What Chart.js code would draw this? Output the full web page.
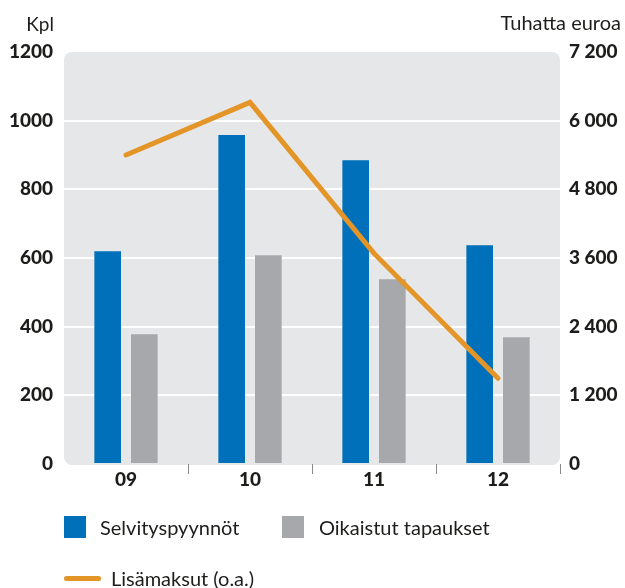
<html>
	<head>
		<script src="https://cdn.jsdelivr.net/npm/chart.js@4"></script>
		<style>
			body {
				margin: 0;
				background: #fff;
				font-family: Lato, sans-serif;
				color: #1d1d1b;
			}
			.wrap {
				position: relative;
				width: 625px;
				height: 588px;
			}
			.legend-item {
				position: absolute;
				font-size: 20px;
				line-height: 22px;
				white-space: nowrap;
			}
			.swatch {
				position: absolute;
			}
		</style>
	</head>
	<body>
		<div class="wrap">
			<canvas id="chart" width="625" height="588"></canvas>

			<div class="swatch" style="left:64px;top:516px;width:22px;height:22px;background:#0070ba"></div>
			<div class="legend-item" style="left:100px;top:516px">Selvityspyynnöt</div>
			<div class="swatch" style="left:282px;top:516px;width:22px;height:22px;background:#a7a8ab"></div>
			<div class="legend-item" style="left:319px;top:516px">Oikaistut tapaukset</div>
			<div class="swatch" style="left:64px;top:576px;width:37px;height:5px;border-radius:3px;background:#e39527"></div>
			<div class="legend-item" style="left:111px;top:567px">Lisämaksut (o.a.)</div>
		</div>

		<script>
			const years = ['09', '10', '11', '12'];
			const selvityspyynnot = [620, 958, 885, 637];
			const oikaistut = [378, 608, 538, 369];
			const lisamaksut = [5400, 6320, 3680, 1500]; // tuhatta euroa, oikea akseli

			const leftTicks = [0, 1200, 200];   // min, max, step
			const rightTicks = [0, 7200, 1200];

			const tickFont = { family: 'Lato', size: 19, weight: 900, lineHeight: 1 };

			function spaced(v) {
				return String(v).replace(/\B(?=(\d{3})+(?!\d))/g, ' ');
			}

			// grey rounded plot background + axis titles
			const decor = {
				id: 'decor',
				beforeDraw(chart) {
					const { ctx, chartArea: a } = chart;
					ctx.save();
					ctx.fillStyle = '#e6e7e9';
					ctx.beginPath();
					ctx.roundRect(a.left, a.top, a.right - a.left, a.bottom - a.top + 1, 8);
					ctx.fill();
					ctx.restore();
				},
				afterDraw(chart) {
					const ctx = chart.ctx;
					ctx.save();
					ctx.fillStyle = '#1d1d1b';
					ctx.textBaseline = 'middle';
					ctx.textAlign = 'right';
					ctx.font = '19px Lato';
					ctx.fillText('Kpl', 54, 25);
					ctx.font = '20px Lato';
					ctx.fillText('Tuhatta euroa', 621, 24);
					ctx.restore();
				}
			};

			new Chart(document.getElementById('chart'), {
				data: {
					labels: years,
					datasets: [
						{
							type: 'line',
							label: 'Lisämaksut (o.a.)',
							data: lisamaksut,
							yAxisID: 'y1',
							borderColor: '#e39527',
							borderWidth: 5,
							borderCapStyle: 'round',
							tension: 0,
							pointRadius: 0,
							order: 0
						},
						{
							type: 'bar',
							label: 'Selvityspyynnöt',
							data: selvityspyynnot,
							yAxisID: 'y',
							backgroundColor: '#0070ba',
							categoryPercentage: 0.591,
							barPercentage: 0.727,
							order: 1
						},
						{
							type: 'bar',
							label: 'Oikaistut tapaukset',
							data: oikaistut,
							yAxisID: 'y',
							backgroundColor: '#a7a8ab',
							categoryPercentage: 0.591,
							barPercentage: 0.727,
							order: 1
						}
					]
				},
				options: {
					responsive: false,
					animation: false,
					devicePixelRatio: 1,
					layout: { padding: { top: 52, bottom: 94, left: 0, right: 0 } },
					plugins: {
						legend: { display: false },
						tooltip: { enabled: false }
					},
					scales: {
						x: {
							offset: true,
							border: { display: false },
							grid: {
								offset: true,
								drawOnChartArea: false,
								tickLength: 10,
								lineWidth: 1,
								color: ctx => (ctx.index === 0 || ctx.index === years.length) ? 'rgba(0,0,0,0)' : '#8a8a8a'
							},
							ticks: { font: tickFont, color: '#1d1d1b', padding: -4 },
							afterFit: s => { s.height = 30; }
						},
						y: {
							position: 'left',
							min: leftTicks[0],
							max: leftTicks[1],
							border: { display: false },
							grid: {
								drawTicks: false,
								lineWidth: 2,
								color: ctx => (ctx.tick && (ctx.tick.value === leftTicks[0] || ctx.tick.value === leftTicks[1])) ? 'rgba(0,0,0,0)' : '#ffffff'
							},
							ticks: { stepSize: leftTicks[2], font: tickFont, color: '#1d1d1b', padding: 11, callback: v => String(v) },
							afterFit: s => { s.width = 64; }
						},
						y1: {
							position: 'right',
							min: rightTicks[0],
							max: rightTicks[1],
							border: { display: false },
							grid: { display: false, drawTicks: false },
							ticks: { stepSize: rightTicks[2], font: tickFont, color: '#1d1d1b', padding: 9, callback: v => spaced(v) },
							afterFit: s => { s.width = 65; }
						}
					}
				},
				plugins: [decor]
			});
		</script>
	</body>
</html>
